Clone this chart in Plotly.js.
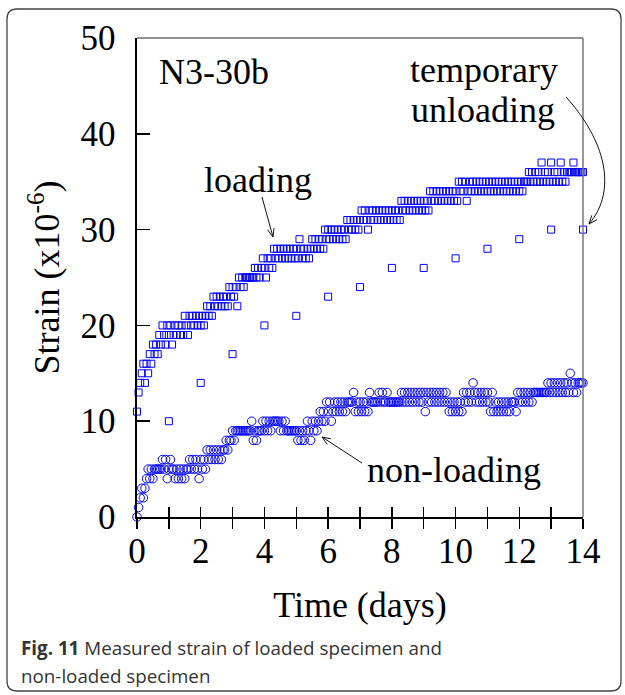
<!DOCTYPE html>
<html>
<head>
<meta charset="utf-8">
<script src="https://cdn.plot.ly/plotly-3.0.1.min.js"></script>
<style>html,body{margin:0;padding:0;background:#fff;}#chart{width:625px;height:695px;}</style>
</head>
<body>
<div id="chart"></div>
<script>
// ---- data (time in days, strain in x10^-6) ----
var days = [
0,0.05,0.1,0.15,0.2,0.25,0.3,0.35,0.4,0.45,0.5,0.55,0.6,0.65,0.7,0.75,0.8,0.85,0.9,0.95,
1,1.05,1.1,1.15,1.2,1.25,1.3,1.35,1.4,1.45,1.5,1.55,1.6,1.65,1.7,1.75,1.8,1.85,1.9,1.95,
2,2.05,2.1,2.15,2.2,2.25,2.3,2.35,2.4,2.45,2.5,2.55,2.6,2.65,2.7,2.75,2.8,2.85,2.9,2.95,
3,3.05,3.1,3.15,3.2,3.25,3.3,3.35,3.4,3.45,3.5,3.55,3.6,3.65,3.7,3.75,3.8,3.85,3.9,3.95,
4,4.05,4.1,4.15,4.2,4.25,4.3,4.35,4.4,4.45,4.5,4.55,4.6,4.65,4.7,4.75,4.8,4.85,4.9,4.95,
5,5.05,5.1,5.15,5.2,5.25,5.3,5.35,5.4,5.45,5.5,5.55,5.6,5.65,5.7,5.75,5.8,5.85,5.9,5.95,
6,6.05,6.1,6.15,6.2,6.25,6.3,6.35,6.4,6.45,6.5,6.55,6.6,6.65,6.7,6.75,6.8,6.85,6.9,6.95,
7,7.05,7.1,7.15,7.2,7.25,7.3,7.35,7.4,7.45,7.5,7.55,7.6,7.65,7.7,7.75,7.8,7.85,7.9,7.95,
8,8.05,8.1,8.15,8.2,8.25,8.3,8.35,8.4,8.45,8.5,8.55,8.6,8.65,8.7,8.75,8.8,8.85,8.9,8.95,
9,9.05,9.1,9.15,9.2,9.25,9.3,9.35,9.4,9.45,9.5,9.55,9.6,9.65,9.7,9.75,9.8,9.85,9.9,9.95,
10,10.05,10.1,10.15,10.2,10.25,10.3,10.35,10.4,10.45,10.5,10.55,10.6,10.65,10.7,10.75,10.8,10.85,10.9,10.95,
11,11.05,11.1,11.15,11.2,11.25,11.3,11.35,11.4,11.45,11.5,11.55,11.6,11.65,11.7,11.75,11.8,11.85,11.9,11.95,
12,12.05,12.1,12.15,12.2,12.25,12.3,12.35,12.4,12.45,12.5,12.55,12.6,12.65,12.7,12.75,12.8,12.85,12.9,12.95,
13,13.05,13.1,13.15,13.2,13.25,13.3,13.35,13.4,13.45,13.5,13.55,13.6,13.65,13.7,13.75,13.8,13.85,13.9,13.95,
14];

var loadingStrain = [
11,13,14,15,16,14,16,15,17,16,18,17,18,17,19,18,20,19,18,20,
19,20,18,19,20,19,20,19,20,19,21,20,19,21,20,21,20,21,20,21,
20,21,20,21,22,21,22,21,23,22,23,22,23,22,23,22,23,22,24,23,
24,23,24,22,25,24,25,24,25,25,25,25,25,25,26,25,26,25,26,27,
26,25,27,26,27,26,28,27,28,27,28,27,28,27,28,27,28,27,28,27,
28,27,29,28,27,28,27,28,27,28,29,28,29,28,29,28,29,28,30,29,
30,29,30,29,30,29,30,29,30,29,30,29,31,30,31,30,31,30,31,30,
31,32,31,32,31,30,32,31,32,31,32,31,32,31,32,31,32,31,32,31,
32,31,32,31,32,31,33,32,33,32,33,32,33,32,33,32,33,32,33,32,
33,32,33,32,34,33,34,33,34,33,34,33,34,33,34,33,34,33,34,33,
34,33,35,34,35,34,35,33,34,35,34,35,34,35,34,35,34,35,34,35,
34,35,34,35,34,35,34,35,34,35,34,35,34,35,34,35,34,35,34,35,
34,35,34,35,35,35,36,35,36,35,36,35,36,35,37,35,36,35,36,35,
37,35,36,35,36,35,37,35,36,35,36,36,36,36,37,36,36,36,36,36,
36];

var nonLoadingStrain = [
0,1,2,3,2,3,4,5,4,5,4,5,5,5,5,5,6,5,6,4,
5,6,5,5,4,5,4,5,4,5,4,5,5,6,5,6,5,6,5,4,
6,5,6,5,7,6,7,6,7,6,7,6,7,6,7,7,8,7,8,8,
9,8,9,9,9,9,9,9,9,9,9,9,10,8,9,8,9,9,9,10,
9,10,9,10,9,10,10,10,10,10,9,10,9,10,9,9,9,9,9,9,
9,8,9,8,9,8,9,10,9,8,10,9,10,9,10,11,10,11,10,12,
11,12,10,11,12,11,12,11,12,11,12,11,12,12,12,12,13,11,12,11,
12,11,12,11,12,11,13,12,12,12,12,12,13,12,13,12,12,13,12,12,
12,12,12,12,12,12,13,12,13,12,13,12,13,12,13,12,13,12,13,12,
13,11,13,12,13,12,13,12,13,12,13,12,13,12,13,12,11,12,11,12,
11,12,11,12,11,13,12,13,12,13,12,14,13,12,13,12,13,12,13,12,
13,12,11,13,11,12,11,12,11,12,11,12,11,12,11,12,12,12,11,13,
12,13,12,13,12,13,12,13,12,13,13,13,13,13,13,13,13,13,14,13,
14,13,14,13,14,13,14,13,14,13,14,13,15,14,13,14,13,14,14,14,
14];

// temporary unloading readings (once per day)
var unloadDays   = [1,2,3,4,5,6,7,8,9,10,11,12,13,14];
var unloadStrain = [10,14,17,20,21,23,24,26,26,27,28,29,30,30];

var xTickVals = [0,2,4,6,8,10,12,14];
var yTickVals = [0,10,20,30,40,50];

// ---- pixel -> paper helpers for decorations ----
var W = 625, H = 695, L = 137, R = 42, T = 38, B = 178;
var PW = W - L - R, PH = H - T - B;
function px(x){ return (x - L) / PW; }
function py(y){ return (H - B - y) / PH; }
function pt(x, y){ return px(x) + ',' + py(y); }

var serif = 'Liberation Serif, Times New Roman, serif';
var blue = 'rgb(0,0,255)';

var traces = [
  {x: days, y: loadingStrain, type: 'scatter', mode: 'markers', cliponaxis: false,
   marker: {symbol: 'square-open', size: 7, color: blue, line: {width: 1, color: blue}}, showlegend: false},
  {x: unloadDays, y: unloadStrain, type: 'scatter', mode: 'markers', cliponaxis: false,
   marker: {symbol: 'square-open', size: 7, color: blue, line: {width: 1, color: blue}}, showlegend: false},
  {x: days, y: nonLoadingStrain, type: 'scatter', mode: 'markers', cliponaxis: false,
   marker: {symbol: 'circle-open', size: 8.5, color: blue, line: {width: 1, color: blue}}, showlegend: false},
  {x: [], y: [], xaxis: 'x2', yaxis: 'y', type: 'scatter', mode: 'markers', showlegend: false, hoverinfo: 'skip'}
];

// outer rounded frame
var fx0 = px(7), fx1 = px(621), fy0 = py(9), fy1 = py(691);
var rx = 10 / PW, ry = 10 / PH;
var framePath = 'M ' + (fx0 + rx) + ',' + fy0 +
  ' L ' + (fx1 - rx) + ',' + fy0 +
  ' Q ' + fx1 + ',' + fy0 + ' ' + fx1 + ',' + (fy0 - ry) +
  ' L ' + fx1 + ',' + (fy1 + ry) +
  ' Q ' + fx1 + ',' + fy1 + ' ' + (fx1 - rx) + ',' + fy1 +
  ' L ' + (fx0 + rx) + ',' + fy1 +
  ' Q ' + fx0 + ',' + fy1 + ' ' + fx0 + ',' + (fy1 + ry) +
  ' L ' + fx0 + ',' + (fy0 - ry) +
  ' Q ' + fx0 + ',' + fy0 + ' ' + (fx0 + rx) + ',' + fy0 + ' Z';

// open V arrowhead at (hx,hy) pointing away from (fx,fy)  (pixel space)
function headPath(fx, fy, hx, hy){
  var dx = hx - fx, dy = hy - fy, len = Math.sqrt(dx*dx + dy*dy);
  dx /= len; dy /= len;
  var s = 9, a = 0.38, c = Math.cos(a), sn = Math.sin(a);
  var l1x = hx - s*(dx*c - dy*sn), l1y = hy - s*(dx*sn + dy*c);
  var l2x = hx - s*(dx*c + dy*sn), l2y = hy - s*(-dx*sn + dy*c);
  return ' M ' + pt(l1x, l1y) + ' L ' + pt(hx, hy) + ' L ' + pt(l2x, l2y);
}
function straightArrow(tx, ty, hx, hy){
  return {type: 'path', xref: 'paper', yref: 'paper', line: {color: '#111', width: 1},
          path: 'M ' + pt(tx, ty) + ' L ' + pt(hx, hy) + headPath(tx, ty, hx, hy)};
}
// curved pointer for "temporary unloading"
var curvePath = 'M ' + pt(566, 97) + ' C ' + pt(605, 140) + ' ' + pt(618, 190) + ' ' + pt(589, 224) +
  headPath(612, 196, 589, 224);

var shapes = [
  {type: 'path', xref: 'paper', yref: 'paper', path: framePath, line: {color: '#444', width: 1.3}},
  {type: 'line', xref: 'paper', yref: 'paper', x0: 0, x1: 1, y0: 1, y1: 1, line: {color: '#222', width: 1}},
  {type: 'line', xref: 'paper', yref: 'paper', x0: 1, x1: 1, y0: 0, y1: 1, line: {color: '#777', width: 1.5}},
  {type: 'path', xref: 'paper', yref: 'paper', path: curvePath, line: {color: '#111', width: 1}},
  straightArrow(262, 197, 273, 237),
  straightArrow(362, 463, 322, 437)
];

var annFont = {family: serif, size: 36, color: '#000'};
function label(text, x, y){
  return {xref: 'paper', yref: 'paper', x: px(x), y: py(y), xanchor: 'center', yanchor: 'middle',
          text: text, showarrow: false, font: annFont};
}
var capFont = {family: 'Open Sans, Noto Sans, sans-serif', size: 18.8, color: '#333'};
var annotations = [
  label('N3-30b', 214, 72),
  label('loading', 258, 180),
  label('temporary', 484, 70),
  label('unloading', 483, 110),
  label('non-loading', 454, 470),
  {xref: 'paper', yref: 'paper', x: px(19), y: py(648), xanchor: 'left', yanchor: 'middle', showarrow: false,
   text: '<b>Fig. 11</b> Measured strain of loaded specimen and', font: capFont},
  {xref: 'paper', yref: 'paper', x: px(19), y: py(676), xanchor: 'left', yanchor: 'middle', showarrow: false,
   text: 'non-loaded specimen', font: capFont}
];

var layout = {
  width: W, height: H,
  margin: {l: L, r: R, t: T, b: B, pad: 0},
  paper_bgcolor: '#fff', plot_bgcolor: '#fff',
  font: {family: serif, color: '#000'},
  showlegend: false,
  xaxis: {
    range: [0, 14], tickvals: xTickVals, ticks: 'outside', ticklen: 10, tickwidth: 1.5, tickcolor: '#000',
    minor: {dtick: 1, tick0: 0, ticks: 'outside', ticklen: 10, tickwidth: 1.5, tickcolor: '#000'},
    showline: true, linewidth: 2, linecolor: '#000', showgrid: false, zeroline: false,
    tickfont: {family: serif, size: 35, color: '#000'}, ticklabelstandoff: -8,
    title: {text: 'Time (days)', font: {family: serif, size: 36, color: '#000'}, standoff: 22}
  },
  xaxis2: {
    range: [0, 14], overlaying: 'x', anchor: 'y', side: 'bottom', tickvals: xTickVals,
    ticks: 'inside', ticklen: 10, tickwidth: 1.5, tickcolor: '#000', showticklabels: false,
    minor: {dtick: 1, tick0: 0, ticks: 'inside', ticklen: 10, tickwidth: 1.5, tickcolor: '#000'},
    showline: false, showgrid: false, zeroline: false
  },
  yaxis: {
    range: [0, 50], tickvals: yTickVals, ticks: 'inside', ticklen: 13, tickwidth: 1.5, tickcolor: '#000',
    showline: true, linewidth: 2.5, linecolor: '#000', showgrid: false, zeroline: false,
    tickfont: {family: serif, size: 35, color: '#000'}, ticklabelstandoff: 12,
    title: {text: 'Strain (x10<sup>-6</sup>)', font: {family: serif, size: 36, color: '#000'}, standoff: 10}
  },
  shapes: shapes,
  annotations: annotations
};

Plotly.newPlot('chart', traces, layout, {staticPlot: true, displayModeBar: false});
</script>
</body>
</html>
